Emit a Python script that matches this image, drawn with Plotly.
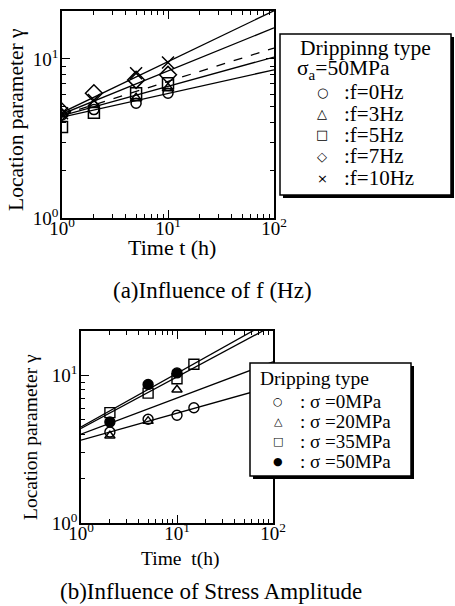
import numpy as np
import plotly.graph_objects as go

W, H = 455, 606

# ---------------- data: (a) influence of frequency ----------------
t_a = [1, 2, 5, 10]
gamma_f0 = [4.44, 4.80, 5.27, 6.08]
gamma_f3 = [4.50, 5.14, 5.66, 6.54]
gamma_f5 = [3.73, 4.59, 6.08, 7.03]
gamma_f7 = [4.66, 6.08, 7.38, 7.94]
gamma_f10 = [4.55, 5.52, 8.13, 9.48]
labels_a = [":f=0Hz", ":f=3Hz", ":f=5Hz", ":f=7Hz", ":f=10Hz"]
fit_a_coef = [4.30, 4.40, 4.45, 4.50, 4.60]   # gamma = a * t^b
fit_a_exp = [0.149, 0.184, 0.210, 0.271, 0.320]

# ---------------- data: (b) influence of stress amplitude ----------------
t_s0 = [2, 5, 10, 15]
gamma_s0 = [4.14, 5.05, 5.37, 6.04]
t_s20 = [2, 5, 10]
gamma_s20 = [3.90, 4.90, 8.00]
t_s35 = [2, 5, 10, 15]
gamma_s35 = [5.60, 7.59, 9.50, 11.9]
t_s50 = [2, 5, 10]
gamma_s50 = [4.84, 8.69, 10.4]
labels_b = [": \u03c3 =0MPa", ": \u03c3 =20MPa", ": \u03c3 =35MPa", ": \u03c3 =50MPa"]
fit_b_coef = [3.64, 4.00, 4.37, 4.47]
fit_b_exp = [0.183, 0.245, 0.349, 0.364]

tick_vals = [1, 10, 100]
tick_text = ["10<sup>0</sup>", "10<sup>1</sup>", "10<sup>2</sup>"]
ytick_vals = [1, 10]
ytick_text = ["10<sup>0</sup>", "10<sup>1</sup>"]
minor_x = [2, 3, 4, 5, 6, 7, 8, 9, 20, 30, 40, 50, 60, 70, 80, 90]
minor_y = [2, 3, 4, 5, 6, 7, 8, 9, 20]

fit_t = np.array([1.0, 100.0])

def px(x):
    return x / W

def py(y):
    return 1 - y / H

SERIF = "Liberation Serif, Times New Roman, serif"

fig = go.Figure()

# --- panel (a) ---
sym_a = ["circle-open", "triangle-up-open", "square-open", "diamond-open", "x-thin-open"]
size_a = [10, 10, 11, 13, 12]
series_a = [gamma_f0, gamma_f3, gamma_f5, gamma_f7, gamma_f10]
for i, g in enumerate(series_a):
    fig.add_trace(go.Scatter(
        x=fit_t, y=fit_a_coef[i] * fit_t ** fit_a_exp[i], mode="lines",
        line=dict(color="black", width=1.3, dash="dash" if i == 2 else "solid"),
        xaxis="x", yaxis="y", showlegend=False, hoverinfo="skip"))
for i, g in enumerate(series_a):
    fig.add_trace(go.Scatter(
        x=t_a, y=g, mode="markers", name=labels_a[i],
        marker=dict(symbol=sym_a[i], size=size_a[i], color="black",
                    line=dict(color="black", width=1.5)),
        xaxis="x", yaxis="y", showlegend=False))

# --- panel (b) ---
sym_b = ["circle-open", "triangle-up-open", "square-open", "circle"]
t_b = [t_s0, t_s20, t_s35, t_s50]
series_b = [gamma_s0, gamma_s20, gamma_s35, gamma_s50]
for i in range(4):
    fig.add_trace(go.Scatter(
        x=fit_t, y=fit_b_coef[i] * fit_t ** fit_b_exp[i], mode="lines",
        line=dict(color="black", width=1.3),
        xaxis="x2", yaxis="y2", showlegend=False, hoverinfo="skip"))
for i in range(4):
    fig.add_trace(go.Scatter(
        x=t_b[i], y=series_b[i], mode="markers", name=labels_b[i],
        marker=dict(symbol=sym_b[i], size=10 if i != 1 else 9, color="black",
                    line=dict(color="black", width=1.4)),
        xaxis="x2", yaxis="y2", showlegend=False))

def axis(domain, anchor, rng, vals, text, minor_vals, standoff):
    return dict(
        type="log", range=rng, domain=domain, anchor=anchor, automargin=False,
        showline=True, linecolor="black", linewidth=1.5, mirror="allticks",
        ticks="inside", ticklen=8, tickwidth=1.2, tickcolor="black",
        tickmode="array", tickvals=vals, ticktext=text, showgrid=False, zeroline=False,
        ticklabelstandoff=standoff,
        tickfont=dict(family=SERIF, size=19, color="black"),
        minor=dict(ticks="inside", ticklen=4, tickwidth=1.1, tickcolor="black",
                   tickmode="array", tickvals=minor_vals, showgrid=False),
    )

fig.update_layout(
    width=W, height=H, margin=dict(l=0, r=0, t=0, b=0, autoexpand=False),
    paper_bgcolor="white", plot_bgcolor="white", showlegend=False,
    font=dict(family=SERIF, color="black"),
    xaxis=axis([px(62), px(274)], "y", [0, 2], tick_vals, tick_text, minor_x, -8),
    yaxis=axis([py(218), py(11)], "x", [0, 1.301], ytick_vals, ytick_text, minor_y, -2),
    xaxis2=axis([px(81), px(273)], "y2", [0, 2], tick_vals, tick_text, minor_x, -8),
    yaxis2=axis([py(523), py(331)], "x2", [0, 1.301], ytick_vals, ytick_text, minor_y, -2),
)

ann = []
def text(x, y, s, size, angle=0, xanchor="center", family=SERIF):
    ann.append(dict(x=px(x), y=py(y), xref="paper", yref="paper", text=s,
                    showarrow=False, textangle=angle, xanchor=xanchor,
                    yanchor="middle", font=dict(family=family, size=size, color="black")))

# axis titles & captions
text(16, 120, "Location parameter \u03b3", 21.5, angle=-90)
text(172, 247, "Time t (h)", 22)
text(212, 290, "(a)Influence of f (Hz)", 23)
text(30, 437, "Location parameter \u03b3", 19.5, angle=-90)
text(180, 559, "Time  t(h)", 19.5)
text(211, 591, "(b)Influence of Stress Amplitude", 23)

shapes = []
def box(x0, y0, x1, y1):
    shapes.append(dict(type="rect", xref="paper", yref="paper",
                       x0=px(x0 + 3), y0=py(y1 + 3), x1=px(x1 + 3), y1=py(y0 + 3),
                       fillcolor="black", line=dict(width=0), layer="above"))
    shapes.append(dict(type="rect", xref="paper", yref="paper",
                       x0=px(x0), y0=py(y1), x1=px(x1), y1=py(y0),
                       fillcolor="white", line=dict(color="black", width=1.5), layer="above"))

# legend (a)
box(280, 34, 451, 195)
text(298, 48, "Drippinng type", 21.5, xanchor="left")
text(295, 70, "\u03c3<sub>a</sub>=50MPa", 21.5, xanchor="left")
glyph_a = ["\u25cb", "\u25b3", "\u25a1", "\u25c7", "\u00d7"]
for i, lab in enumerate(labels_a):
    yy = 92 + i * 21.5
    text(322, yy, glyph_a[i], 13, family="DejaVu Sans")
    text(342, yy, lab, 21, xanchor="left")

# legend (b)
box(250, 363, 411, 476)
text(258, 378, "Dripping type", 19.5, xanchor="left")
glyph_b = ["\u25cb", "\u25b3", "\u25a1", "\u25cf"]
for i, lab in enumerate(labels_b):
    yy = 401 + i * 20
    text(278, yy, glyph_b[i], 11, family="DejaVu Sans")
    text(298, yy, lab, 19, xanchor="left")

fig.update_layout(annotations=ann, shapes=shapes)
fig.write_html("out.html", config={"displayModeBar": False},
               post_script="document.body.style.margin='0';")
